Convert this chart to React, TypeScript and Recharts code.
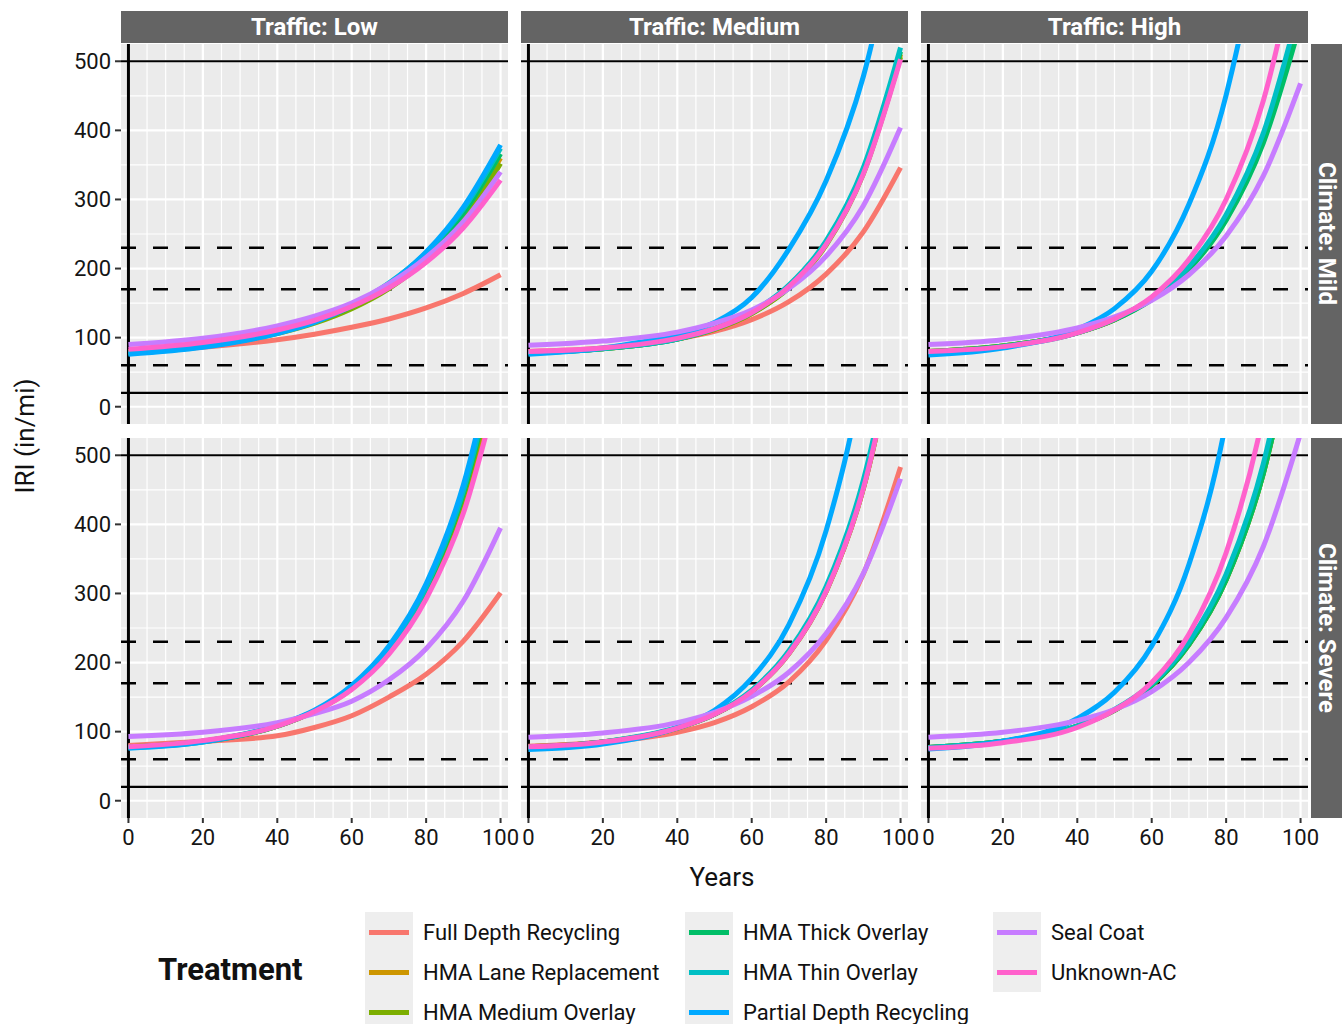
import { LineChart, Line, XAxis, YAxis, CartesianGrid, ReferenceLine } from 'recharts'

// sample years for every curve
const years = [0, 20, 40, 50, 60, 70, 80, 90, 100]

const treatments = [
  'Full Depth Recycling',
  'HMA Lane Replacement',
  'HMA Medium Overlay',
  'HMA Thick Overlay',
  'HMA Thin Overlay',
  'Partial Depth Recycling',
  'Seal Coat',
  'Unknown-AC',
]
const seriesKeys = ['fdr', 'lane', 'medium', 'thick', 'thin', 'pdr', 'seal', 'unknown']
const colors = ['#F8766D', '#CD9600', '#7CAE00', '#00BE67', '#00BFC4', '#00A9FF', '#C77CFF', '#FF61CC']

const trafficLevels = ['Low', 'Medium', 'High']
const climates = ['Mild', 'Severe']

const xTicks = [0, 20, 40, 60, 80, 100]
const yTicks = [0, 100, 200, 300, 400, 500]
const xMinor = [5, 10, 15, 25, 30, 35, 45, 50, 55, 65, 70, 75, 85, 90, 95]
const yMinor = [50, 150, 250, 350, 450]
const solidLimits = [20, 500]
const dashedLimits = [60, 170, 230]

type Series = Record<string, number[]>

// IRI by treatment, one table per traffic/climate facet
const lowMild: Series = {
  fdr: [80, 86, 97, 105, 115, 127, 143, 164, 191],
  lane: [79, 88, 107, 122, 144, 174, 216, 275, 360],
  medium: [79, 88, 106, 121, 142, 171, 212, 269, 352],
  thick: [78, 87, 107, 123, 145, 176, 219, 280, 366],
  thin: [77, 87, 108, 124, 147, 179, 223, 286, 374],
  pdr: [76, 86, 106, 122, 146, 178, 224, 289, 379],
  seal: [90, 99, 117, 131, 150, 178, 216, 268, 340],
  unknown: [83, 93, 111, 125, 145, 172, 209, 259, 328],
}

const mediumMild: Series = {
  fdr: [80, 85, 98, 109, 126, 152, 192, 253, 346],
  lane: [79, 84, 98, 112, 135, 173, 236, 340, 510],
  medium: [79, 84, 98, 112, 135, 172, 234, 337, 506],
  thick: [78, 84, 98, 113, 136, 175, 238, 343, 514],
  thin: [78, 84, 98, 113, 137, 176, 240, 346, 520],
  pdr: [76, 85, 105, 122, 158, 228, 327, 478, 717],
  seal: [89, 95, 108, 121, 140, 171, 218, 291, 404],
  unknown: [80, 85, 99, 113, 136, 174, 235, 337, 503],
}

const highMild: Series = {
  lane: [80, 88, 107, 126, 156, 201, 274, 390, 572],
  medium: [80, 88, 107, 126, 156, 200, 272, 386, 564],
  thick: [80, 88, 107, 126, 155, 199, 270, 382, 556],
  thin: [79, 87, 107, 127, 157, 203, 278, 396, 585],
  pdr: [75, 85, 112, 142, 196, 293, 451, 724, 1191],
  seal: [90, 97, 114, 130, 154, 191, 247, 334, 468],
  unknown: [80, 87, 107, 127, 159, 213, 300, 443, 674],
}

const lowSevere: Series = {
  fdr: [80, 86, 94, 106, 123, 150, 183, 231, 301],
  lane: [78, 86, 108, 129, 162, 215, 300, 432, 640],
  medium: [78, 86, 108, 130, 163, 218, 304, 440, 655],
  thick: [77, 85, 108, 130, 164, 219, 307, 445, 663],
  thin: [77, 86, 109, 130, 165, 221, 309, 449, 670],
  pdr: [76, 85, 109, 131, 167, 224, 314, 457, 683],
  seal: [93, 99, 113, 126, 144, 175, 220, 289, 395],
  unknown: [78, 87, 108, 129, 161, 212, 292, 416, 612],
}

const mediumSevere: Series = {
  fdr: [79, 85, 99, 113, 136, 172, 232, 328, 483],
  lane: [78, 85, 105, 125, 158, 213, 303, 452, 696],
  medium: [78, 85, 105, 125, 158, 213, 303, 452, 696],
  thick: [77, 85, 105, 125, 159, 215, 306, 458, 706],
  thin: [77, 85, 106, 126, 160, 217, 310, 464, 716],
  pdr: [74, 82, 106, 131, 177, 255, 391, 626, 1035],
  seal: [92, 98, 113, 128, 151, 186, 242, 329, 466],
  unknown: [78, 85, 105, 125, 158, 213, 303, 452, 696],
}

const highSevere: Series = {
  lane: [77, 86, 108, 131, 167, 226, 320, 474, 721],
  medium: [77, 86, 108, 131, 167, 226, 320, 474, 721],
  thick: [77, 86, 108, 131, 167, 226, 320, 474, 721],
  thin: [77, 86, 108, 132, 169, 230, 328, 488, 745],
  pdr: [75, 86, 119, 157, 224, 342, 550, 918, 1571],
  seal: [92, 99, 116, 132, 158, 200, 265, 368, 532],
  unknown: [76, 84, 106, 131, 171, 241, 359, 559, 898],
}

const facets: Series[][] = [
  [lowMild, mediumMild, highMild],
  [lowSevere, mediumSevere, highSevere],
]

// layout
const PANEL_W = 387
const PANEL_H = 380
const PANEL_LEFT = [121, 521, 921]
const PANEL_TOP = [44, 438]
const Y_AXIS_W = 60
const X_AXIS_H = 44
const RIGHT_PAD = 20 // room for the "100" tick label past the panel edge
const STRIP = '#646464'
const FONT = 'Roboto, "DejaVu Sans", sans-serif'

function toRows(series: Series) {
  return years.map((year, i) => {
    const row: Record<string, number> = { year }
    for (const k of seriesKeys) {
      if (series[k]) row[k] = series[k][i]
    }
    return row
  })
}

function Panel({ series, showX, showY, left, top }: {
  series: Series; showX: boolean; showY: boolean; left: number; top: number
}) {
  const padRight = showX ? RIGHT_PAD : 0
  const width = PANEL_W + (showY ? Y_AXIS_W : 0) + padRight
  const height = PANEL_H + (showX ? X_AXIS_H : 0)
  const data = toRows(series)
  return (
    <div style={{ position: 'absolute', left: left - (showY ? Y_AXIS_W : 0), top }}>
      <LineChart width={width} height={height} data={data}
        margin={{ top: 0, right: padRight, bottom: 0, left: 0 }}>
        <CartesianGrid fill="#EBEBEB" stroke="#FFFFFF" strokeWidth={1.2}
          horizontalValues={yMinor} verticalValues={xMinor} />
        <CartesianGrid stroke="#FFFFFF" strokeWidth={2.2}
          horizontalValues={yTicks} verticalValues={xTicks} />
        <XAxis type="number" dataKey="year" domain={[-2, 102]} ticks={xTicks} interval={0}
          allowDataOverflow hide={!showX} height={X_AXIS_H} axisLine={false}
          tickSize={5} tickMargin={6} tickLine={{ stroke: '#333', strokeWidth: 2 }}
          tick={{ fill: '#151515', fontSize: 22 }} />
        <YAxis type="number" domain={[-25, 525]} ticks={yTicks} interval={0}
          allowDataOverflow hide={!showY} width={Y_AXIS_W} axisLine={false}
          tickSize={6} tickMargin={4} tickLine={{ stroke: '#333', strokeWidth: 2 }}
          tick={{ fill: '#151515', fontSize: 22 }} />
        {dashedLimits.map((v) => (
          <ReferenceLine key={v} y={v} stroke="#000" strokeWidth={2.4} strokeDasharray="15 17" />
        ))}
        {solidLimits.map((v) => (
          <ReferenceLine key={v} y={v} stroke="#000" strokeWidth={2.2} />
        ))}
        <ReferenceLine x={0} stroke="#000" strokeWidth={3} />
        {seriesKeys.map((k, i) =>
          series[k] ? (
            <Line key={k} type="monotone" dataKey={k} stroke={colors[i]} strokeWidth={5}
              dot={false} activeDot={false} isAnimationActive={false} />
          ) : null
        )}
      </LineChart>
    </div>
  )
}

function LegendColumn({ items, left }: { items: number[]; left: number }) {
  return (
    <div style={{ position: 'absolute', left, top: 912 }}>
      <div style={{ position: 'absolute', left: 0, top: 0, width: 48, height: items.length * 40, background: '#EEEEEE' }} />
      {items.map((idx, r) => (
        <div key={idx} style={{ position: 'absolute', left: 0, top: r * 40, height: 40, display: 'flex', alignItems: 'center' }}>
          <div style={{ width: 40, height: 5, marginLeft: 4, background: colors[idx] }} />
          <span style={{ marginLeft: 14, fontSize: 22, color: '#111', whiteSpace: 'nowrap' }}>{treatments[idx]}</span>
        </div>
      ))}
    </div>
  )
}

export default function App() {
  return (
    <div style={{ position: 'fixed', left: 0, top: 0, width: 1342, height: 1024, background: '#fff', fontFamily: FONT, overflow: 'hidden' }}>
      {trafficLevels.map((t, c) => (
        <div key={t} style={{
          position: 'absolute', left: PANEL_LEFT[c], top: 11, width: PANEL_W, height: 32,
          background: STRIP, color: '#fff', fontWeight: 700, fontSize: 24,
          display: 'flex', alignItems: 'center', justifyContent: 'center',
        }}>
          {`Traffic: ${t}`}
        </div>
      ))}
      {climates.map((cl, r) => (
        <div key={cl} style={{
          position: 'absolute', left: 1311, top: PANEL_TOP[r], width: 31, height: PANEL_H,
          background: STRIP, color: '#fff', fontWeight: 700, fontSize: 24,
          display: 'flex', alignItems: 'center', justifyContent: 'center',
        }}>
          <span style={{ writingMode: 'vertical-rl' }}>{`Climate: ${cl}`}</span>
        </div>
      ))}
      {facets.map((row, r) =>
        row.map((series, c) => (
          <Panel key={`${r}-${c}`} series={series} showX={r === 1} showY={c === 0}
            left={PANEL_LEFT[c]} top={PANEL_TOP[r]} />
        ))
      )}
      <div style={{ position: 'absolute', left: 622, top: 862, width: 200, textAlign: 'center', fontSize: 26, color: '#111' }}>
        Years
      </div>
      <div style={{
        position: 'absolute', left: 25, top: 436, transform: 'translate(-50%, -50%) rotate(-90deg)',
        fontSize: 26, color: '#111', whiteSpace: 'nowrap',
      }}>
        IRI (in/mi)
      </div>
      <div style={{ position: 'absolute', left: 158, top: 951, fontSize: 31, fontWeight: 700, color: '#111' }}>
        Treatment
      </div>
      <LegendColumn items={[0, 1, 2]} left={365} />
      <LegendColumn items={[3, 4, 5]} left={685} />
      <LegendColumn items={[6, 7]} left={993} />
    </div>
  )
}
